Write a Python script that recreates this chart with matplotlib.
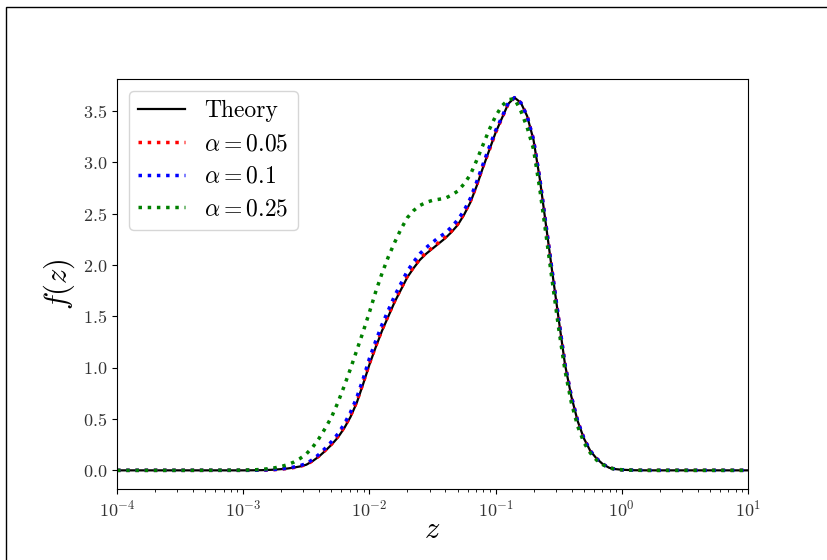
import numpy as np
import matplotlib
matplotlib.use("Agg")
import matplotlib.pyplot as plt
from matplotlib.patches import Rectangle

plt.rcParams["font.family"] = "serif"
plt.rcParams["font.serif"] = ["cmr10"]
plt.rcParams["mathtext.fontset"] = "cm"
plt.rcParams["axes.formatter.use_mathtext"] = True

# sample positions (log10 of z)
log_z = np.array([-4.0, -3.5, -3.0, -2.9, -2.85, -2.8, -2.75, -2.7, -2.65, -2.6,
                  -2.55, -2.5, -2.45, -2.4, -2.35, -2.3, -2.25, -2.2, -2.15, -2.1,
                  -2.05, -2.0, -1.95, -1.9, -1.85, -1.8, -1.75, -1.7, -1.65, -1.6,
                  -1.55, -1.5, -1.45, -1.4, -1.35, -1.3, -1.25, -1.2, -1.15, -1.1,
                  -1.05, -1.0, -0.95, -0.9, -0.85, -0.8, -0.75, -0.7, -0.65, -0.6,
                  -0.55, -0.5, -0.45, -0.4, -0.35, -0.3, -0.25, -0.2, -0.15, -0.1,
                  -0.05, 0.0, 0.1, 0.2, 0.5, 1.0])

f_theory = [0, 0, 0, 0.001, 0.002, 0.004, 0.007, 0.012, 0.018, 0.027,
            0.038, 0.055, 0.09, 0.135, 0.19, 0.25, 0.32, 0.41, 0.52, 0.66,
            0.84, 1.03, 1.20, 1.36, 1.50, 1.64, 1.76, 1.88, 1.97, 2.05,
            2.11, 2.16, 2.21, 2.26, 2.32, 2.39, 2.49, 2.61, 2.77, 2.95,
            3.12, 3.29, 3.43, 3.57, 3.63, 3.58, 3.45, 3.22, 2.84, 2.38,
            1.92, 1.47, 1.03, 0.72, 0.48, 0.31, 0.19, 0.115, 0.06, 0.025,
            0.012, 0.006, 0.001, 0, 0, 0]

f_alpha_005 = [0, 0, 0, 0.001, 0.002, 0.004, 0.007, 0.012, 0.018, 0.027,
               0.039, 0.057, 0.093, 0.14, 0.196, 0.256, 0.33, 0.42, 0.53, 0.67,
               0.85, 1.04, 1.21, 1.37, 1.51, 1.65, 1.77, 1.89, 1.98, 2.06,
               2.12, 2.17, 2.22, 2.27, 2.33, 2.40, 2.50, 2.62, 2.78, 2.96,
               3.12, 3.29, 3.43, 3.57, 3.63, 3.58, 3.45, 3.22, 2.84, 2.38,
               1.92, 1.47, 1.03, 0.72, 0.48, 0.31, 0.19, 0.115, 0.06, 0.025,
               0.012, 0.006, 0.001, 0, 0, 0]

f_alpha_01 = [0, 0, 0, 0.001, 0.003, 0.005, 0.009, 0.014, 0.021, 0.032,
              0.046, 0.066, 0.105, 0.155, 0.215, 0.28, 0.355, 0.45, 0.565, 0.71,
              0.89, 1.09, 1.26, 1.42, 1.56, 1.70, 1.82, 1.94, 2.03, 2.11,
              2.17, 2.22, 2.27, 2.31, 2.37, 2.44, 2.53, 2.65, 2.81, 2.98,
              3.15, 3.31, 3.44, 3.58, 3.63, 3.58, 3.45, 3.22, 2.84, 2.38,
              1.92, 1.47, 1.03, 0.72, 0.48, 0.31, 0.19, 0.115, 0.06, 0.025,
              0.012, 0.006, 0.001, 0, 0, 0]

f_alpha_025 = [0, 0, 0.002, 0.006, 0.01, 0.016, 0.025, 0.037, 0.055, 0.08,
               0.115, 0.16, 0.225, 0.31, 0.41, 0.52, 0.66, 0.82, 0.99, 1.17,
               1.35, 1.54, 1.74, 1.92, 2.08, 2.22, 2.35, 2.46, 2.53, 2.58,
               2.61, 2.63, 2.64, 2.65, 2.68, 2.72, 2.79, 2.88, 3.02, 3.17,
               3.32, 3.45, 3.55, 3.61, 3.62, 3.50, 3.34, 3.13, 2.74, 2.29,
               1.83, 1.38, 0.97, 0.66, 0.43, 0.27, 0.17, 0.10, 0.055, 0.025,
               0.01, 0.005, 0.001, 0, 0, 0]

z = 10.0 ** log_z

fig = plt.figure(figsize=(8.27, 5.60), dpi=100)
ax = fig.add_axes([0.1415, 0.1268, 0.763, 0.7321])

ax.plot(z, f_theory, color="black", lw=1.6, label="Theory")
ax.plot(z, f_alpha_005, color="red", lw=2.5, ls=":", label=r"$\alpha = 0.05$")
ax.plot(z, f_alpha_01, color="blue", lw=2.5, ls=":", label=r"$\alpha = 0.1$")
ax.plot(z, f_alpha_025, color="green", lw=2.5, ls=":", label=r"$\alpha = 0.25$")

ax.set_xscale("log")
ax.set_xlim(1e-4, 1e1)
ax.set_yticks([0.0, 0.5, 1.0, 1.5, 2.0, 2.5, 3.0, 3.5])
ax.tick_params(labelsize=13, labelcolor="#333333")
ax.set_xlabel(r"$z$", fontsize=22, labelpad=-2)
ax.set_ylabel(r"$f(z)$", fontsize=22)

ax.legend(loc="upper left", fontsize=17, handlelength=2.0, labelspacing=0.45)

# outer frame around the figure
fig.patches.append(Rectangle((6 / 827, -0.1), 1.2, 1.0875, transform=fig.transFigure,
                             fill=False, edgecolor="black", lw=1.0))

fig.savefig("out.png", dpi=100)
